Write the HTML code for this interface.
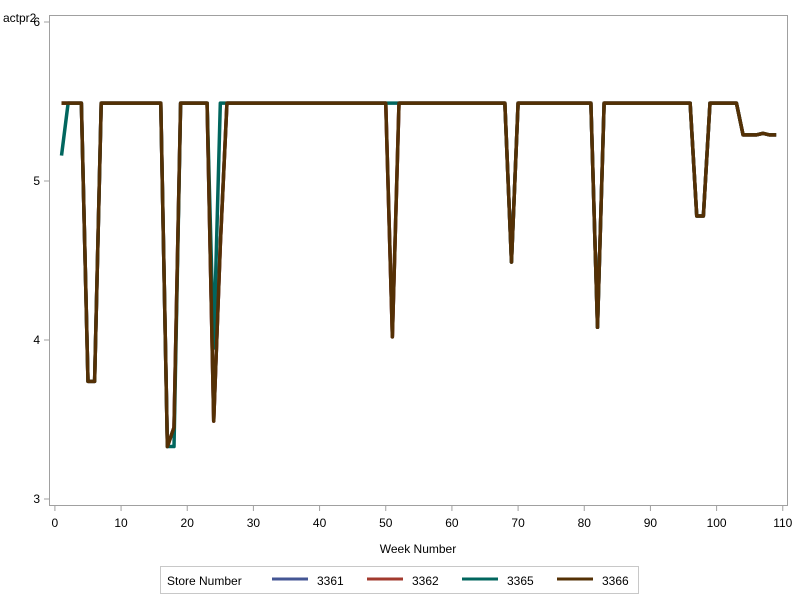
<!DOCTYPE html>
<html><head><meta charset="utf-8"><style>
body{margin:0;background:#fff;font-family:"Liberation Sans",sans-serif;}
svg text{font-family:"Liberation Sans",sans-serif;}
</style></head><body>
<svg id="chart" width="800" height="600" xmlns="http://www.w3.org/2000/svg">
<rect x="0" y="0" width="800" height="600" fill="#fff"/>
<rect x="49.5" y="15.5" width="738" height="490" fill="none" stroke="#a0a0a0"/>
<text x="3" y="22" font-size="12" fill="#000">actpr2</text>
<text x="418" y="553" font-size="12" text-anchor="middle" fill="#000">Week Number</text>
<g id="axes"></g>
<g id="series"></g>
<g>
<rect x="160.5" y="566.5" width="478" height="27" fill="#fff" stroke="#c8c8c8"/>
<text x="167" y="585" font-size="12">Store Number</text>
<g><line x1="272" y1="579" x2="308" y2="579" stroke="#445694" stroke-width="3"/><text x="317" y="585" font-size="12">3361</text></g>
<g><line x1="367" y1="579" x2="403" y2="579" stroke="#A23A2E" stroke-width="3"/><text x="412" y="585" font-size="12">3362</text></g>
<g><line x1="462" y1="579" x2="498" y2="579" stroke="#01665E" stroke-width="3"/><text x="507" y="585" font-size="12">3365</text></g>
<g><line x1="557" y1="579" x2="593" y2="579" stroke="#543005" stroke-width="3"/><text x="602" y="585" font-size="12">3366</text></g>
</g>
</svg>
<script>
const xTicks = [0,10,20,30,40,50,60,70,80,90,100,110];
const yTicks = [3,4,5,6];
const stores = ["3361","3362","3365","3366"];
const colors = ["#445694","#A23A2E","#01665E","#543005"];
const weeks = Array.from({length:109},(_,i)=>i+1);
const TOP = 5.49;
function base(){ return weeks.map(w=>TOP); }
const s3366 = base();
s3366[4]=3.74; s3366[5]=3.74;
s3366[16]=3.33; s3366[17]=3.45;
s3366[23]=3.49; s3366[24]=4.6;
s3366[50]=4.02;
s3366[68]=4.49;
s3366[81]=4.08;
s3366[96]=4.78; s3366[97]=4.78;
for(let i=103;i<109;i++) s3366[i]=5.29;
s3366[106]=5.30;
const s3361 = s3366.slice();
const s3362 = s3366.slice();
const s3365 = s3366.slice();
s3365[0]=5.16; s3365[17]=3.33; s3365[23]=3.95; s3365[24]=5.49; s3365[50]=5.49;
const seriesValues = [s3361,s3362,s3365,s3366];

function xs(v){ return 54.9 + v*6.617; }
function ys(v){ return 181 - (v-5)*159; }
const NS="http://www.w3.org/2000/svg";
const axes=document.getElementById('axes');
xTicks.forEach(t=>{
  const l=document.createElementNS(NS,'line');
  l.setAttribute('x1',xs(t));l.setAttribute('x2',xs(t));l.setAttribute('y1',506);l.setAttribute('y2',511);
  l.setAttribute('stroke','#a0a0a0');
  
  
  axes.appendChild(l);
  const tx=document.createElementNS(NS,'text');
  tx.setAttribute('x',xs(t));tx.setAttribute('y',527);tx.setAttribute('font-size','12');tx.setAttribute('text-anchor','middle');
  tx.textContent=t;
  
  
  axes.appendChild(tx);
});
yTicks.forEach(t=>{
  const l=document.createElementNS(NS,'line');
  l.setAttribute('x1',44);l.setAttribute('x2',49);l.setAttribute('y1',ys(t));l.setAttribute('y2',ys(t));
  l.setAttribute('stroke','#a0a0a0');
  
  
  axes.appendChild(l);
  const tx=document.createElementNS(NS,'text');
  tx.setAttribute('x',40);tx.setAttribute('y',ys(t)+4);tx.setAttribute('font-size','12');tx.setAttribute('text-anchor','end');
  tx.textContent=t;
  
  
  axes.appendChild(tx);
});
const sg=document.getElementById('series');
seriesValues.forEach((vals,k)=>{
  const p=document.createElementNS(NS,'polyline');
  p.setAttribute('points',vals.map((v,i)=>xs(weeks[i])+','+ys(v)).join(' '));
  p.setAttribute('fill','none');p.setAttribute('stroke',colors[k]);p.setAttribute('stroke-width','3.5');
  p.setAttribute('stroke-linejoin','round');
  
  
  sg.appendChild(p);
});
</script>
</body></html>
